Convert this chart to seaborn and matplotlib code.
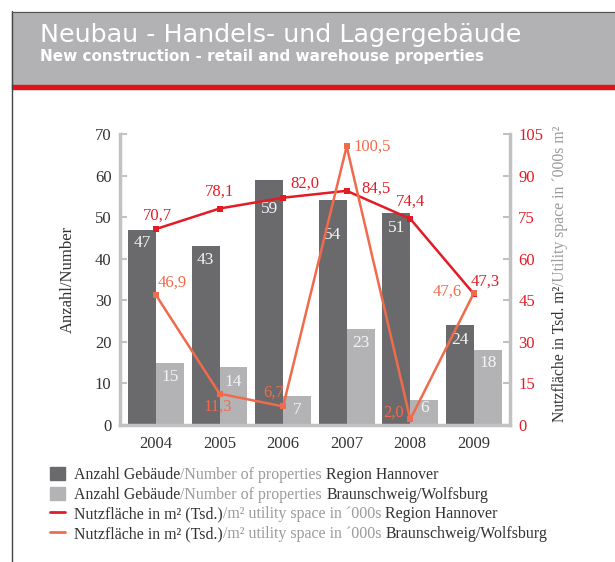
import numpy as np
import pandas as pd
import matplotlib.pyplot as plt
from matplotlib.patches import Rectangle, Patch
from matplotlib.lines import Line2D
import seaborn as sns

years = ['2004', '2005', '2006', '2007', '2008', '2009']
count_hannover = [47, 43, 59, 54, 51, 24]
count_bs = [15, 14, 7, 23, 6, 18]
area_hannover = [70.7, 78.1, 82.0, 84.5, 74.4, 47.3]
area_bs = [46.9, 11.3, 6.7, 100.5, 2.0, 47.6]

DARK = '#6a6a6c'
LIGHT = '#b3b3b5'
RED = '#e31b25'
ORANGE = '#f06a4c'
SPINE = '#c2c2c2'
TXT = '#333333'
GREYTXT = '#9a9a9a'

sns.set_style('white')
plt.rcParams['font.family'] = ['Liberation Serif', 'DejaVu Serif']

df = pd.DataFrame({
    'year': years * 2,
    'count': count_hannover + count_bs,
    'region': ['Hannover'] * 6 + ['BS'] * 6,
})

fig = plt.figure(figsize=(6.15, 5.62), dpi=100)
ax = fig.add_axes([0.195, 0.2438, 0.634, 0.5178])

sns.barplot(data=df, x='year', y='count', hue='region', palette=[DARK, LIGHT],
            width=0.88, gap=0, ax=ax, legend=False, saturation=1, linewidth=0)
ax.set_ylim(0, 70)
ax.set_xlim(-0.566, 5.566)
ax.set_yticks(range(0, 71, 10))
ax.set_xlabel('')
ax.set_ylabel('Anzahl/Number', fontsize=12, color=TXT, labelpad=14)
ax.tick_params(axis='y', direction='in', length=5, color=SPINE, width=1.5,
               labelsize=12, labelcolor=TXT, pad=6)
ax.tick_params(axis='x', length=0, labelsize=12, labelcolor=TXT, pad=8)
for s in ['left', 'bottom']:
    ax.spines[s].set_color(SPINE)
    ax.spines[s].set_linewidth(2.5)
ax.spines['top'].set_visible(False)
ax.spines['right'].set_visible(False)

# white value labels inside bars (distance below bar top, in points)
drop_dark = [10, 10, 21, 25, 11, 11]
drop_light = [10, 11, 10, 10, 6, 9]
for cont, drops in zip(ax.containers, [drop_dark, drop_light]):
    for rect, d in zip(cont, drops):
        ax.annotate(f'{rect.get_height():.0f}',
                    (rect.get_x() + rect.get_width() / 2, rect.get_height()),
                    xytext=(0, -d), textcoords='offset points', ha='center',
                    va='center', color='#f4f4f4', fontsize=12.5)

ax2 = ax.twinx()
xs = np.arange(len(years))
sns.lineplot(x=xs, y=area_hannover, color=RED, marker='s', markersize=5,
             markeredgewidth=0, linewidth=1.8, ax=ax2)
sns.lineplot(x=xs, y=area_bs, color=ORANGE, marker='s', markersize=5,
             markeredgewidth=0, linewidth=1.8, ax=ax2)
ax2.set_ylim(0, 105)
ax2.set_yticks(range(0, 106, 15))
ax2.tick_params(axis='y', direction='in', length=5, color=SPINE, width=1.5,
                labelsize=12, labelcolor=RED, pad=6)
ax2.spines['right'].set_color(SPINE)
ax2.spines['right'].set_linewidth(2.5)
for s in ['top', 'left', 'bottom']:
    ax2.spines[s].set_visible(False)
ax2.set_xlim(-0.566, 5.566)

def fmt(v):
    return f'{v:.1f}'.replace('.', ',')

off_h = [(1, 10), (0, 12), (16, 10), (21, 1.5), (0, 12), (8, 9)]
off_b = [(11.5, 9), (-1.5, -9), (-6.5, 10), (18, 0), (-12, 5), (-19.5, 0.7)]
for i in range(6):
    ax2.annotate(fmt(area_hannover[i]), (xs[i], area_hannover[i]), xytext=off_h[i],
                 textcoords='offset points', ha='center', va='center',
                 color=RED, fontsize=12)
    ax2.annotate(fmt(area_bs[i]), (xs[i], area_bs[i]), xytext=off_b[i],
                 textcoords='offset points', ha='center', va='center',
                 color=ORANGE, fontsize=12)

# right axis label: two colours
t1 = fig.text(0.91, 1 - 422 / 562, 'Nutzfläche in Tsd. m²', rotation=90, fontsize=11.3,
              color=TXT, ha='center', va='bottom')
fig.canvas.draw()
ax2.annotate('/Utility space in ´000s m²', xy=(0.5, 1), xycoords=t1,
             rotation=90, ha='center', va='bottom', fontsize=11.3, color=GREYTXT,
             annotation_clip=False)

# header
fig.add_artist(Rectangle((12 / 615, 1 - 86 / 562), 1, 74 / 562,
                         transform=fig.transFigure, color='#b2b2b4', zorder=0))
fig.add_artist(Rectangle((12 / 615, 1 - 88.5 / 562), 1, 3 / 562,
                         transform=fig.transFigure, color='#e3111b', zorder=1))
fig.add_artist(Line2D([12 / 615, 12 / 615], [0, 1 - 11 / 562],
                      transform=fig.transFigure, color='#444444', lw=1))
fig.add_artist(Line2D([12 / 615, 1], [1 - 11.5 / 562, 1 - 11.5 / 562],
                      transform=fig.transFigure, color='#555555', lw=0.8))
fig.text(40 / 615, 1 - 35 / 562, 'Neubau - Handels- und Lagergebäude',
         family='DejaVu Sans', fontsize=18.3, color='white', va='center')
fig.text(40 / 615, 1 - 57 / 562, 'New construction - retail and warehouse properties',
         family='DejaVu Sans', fontsize=11.0, weight='bold', color='white', va='center')

# legend
handles = [Patch(color=DARK), Patch(color=LIGHT),
           Line2D([], [], color=RED, lw=2), Line2D([], [], color=ORANGE, lw=2)]
first = ['Anzahl Gebäude', 'Anzahl Gebäude', 'Nutzfläche in m² (Tsd.)', 'Nutzfläche in m² (Tsd.)']
middle = ['/Number of properties ', '/Number of properties ',
          '/m² utility space in ´000s ', '/m² utility space in ´000s ']
last = ['Region Hannover', 'Braunschweig/Wolfsburg', 'Region Hannover', 'Braunschweig/Wolfsburg']
leg = fig.legend(handles, first, loc='upper left', bbox_to_anchor=(44 / 615, 1 - 461 / 562),
                 frameon=False, fontsize=11.4, handlelength=0.9, handleheight=0.9,
                 handletextpad=0.6, labelspacing=0.22, borderaxespad=0)
for t in leg.get_texts():
    t.set_color(TXT)
fig.canvas.draw()
for i, t in enumerate(leg.get_texts()):
    m = ax.annotate(middle[i], xy=(1, 0), xycoords=t, ha='left', va='bottom',
                    fontsize=11.4, color=GREYTXT, annotation_clip=False)
    ax.annotate(last[i], xy=(1, 0), xycoords=m, ha='left', va='bottom',
                fontsize=11.4, color=TXT, annotation_clip=False)

fig.savefig('out.png', dpi=100)
